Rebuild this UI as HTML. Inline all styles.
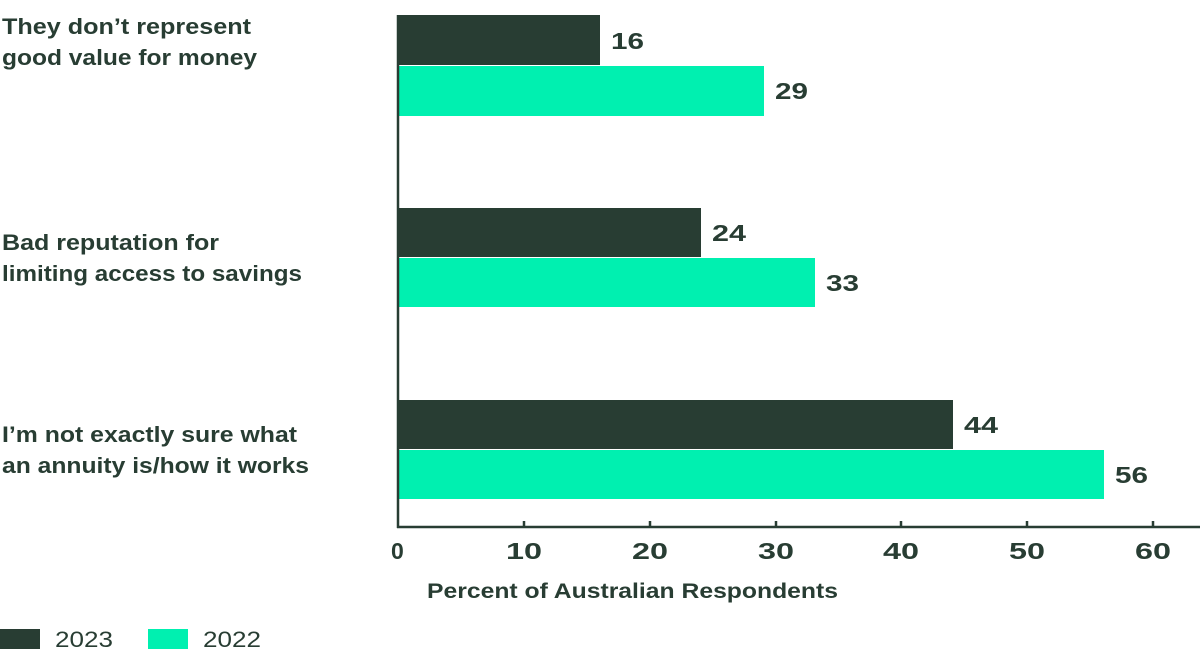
<!DOCTYPE html>
<html><head><meta charset="utf-8"><style>
body{margin:0;background:#fff;}
svg{display:block;font-family:"Liberation Sans",Arial,sans-serif;}
</style></head><body>
<svg width="1200" height="653" viewBox="0 0 1200 653" xmlns="http://www.w3.org/2000/svg">
<g fill="#283d33" font-weight="bold" font-size="22" lengthAdjust="spacingAndGlyphs">
<text x="2" y="34" textLength="249" lengthAdjust="spacingAndGlyphs">They don’t represent</text>
<text x="2" y="65" textLength="255" lengthAdjust="spacingAndGlyphs">good value for money</text>
<text x="2" y="250" textLength="217" lengthAdjust="spacingAndGlyphs">Bad reputation for</text>
<text x="2" y="281" textLength="300" lengthAdjust="spacingAndGlyphs">limiting access to savings</text>
<text x="2" y="442" textLength="295" lengthAdjust="spacingAndGlyphs">I’m not exactly sure what</text>
<text x="2" y="473" textLength="307" lengthAdjust="spacingAndGlyphs">an annuity is/how it works</text>
</g>
<g fill="#283d33"><rect x="398" y="15" width="202" height="50"/><rect x="398" y="208" width="303" height="49"/><rect x="398" y="400" width="555" height="49"/></g>
<g fill="#00f0b0"><rect x="398" y="66" width="366" height="50"/><rect x="398" y="258" width="417" height="49"/><rect x="398" y="450" width="706" height="49"/></g>
<g fill="#283d33" font-weight="bold" font-size="23">
<text x="611" y="49" textLength="33" lengthAdjust="spacingAndGlyphs">16</text><text x="775" y="99" textLength="33" lengthAdjust="spacingAndGlyphs">29</text>
<text x="712" y="241" textLength="34" lengthAdjust="spacingAndGlyphs">24</text><text x="826" y="291" textLength="33" lengthAdjust="spacingAndGlyphs">33</text>
<text x="964" y="433" textLength="34" lengthAdjust="spacingAndGlyphs">44</text><text x="1115" y="483" textLength="33" lengthAdjust="spacingAndGlyphs">56</text>
</g>
<g stroke="#283d33" stroke-width="2.5" fill="none">
<line x1="398" y1="15" x2="398" y2="528"/><line x1="397" y1="527" x2="1200" y2="527"/>
<line x1="524" y1="521" x2="524" y2="527"/><line x1="650" y1="521" x2="650" y2="527"/><line x1="776" y1="521" x2="776" y2="527"/><line x1="901" y1="521" x2="901" y2="527"/><line x1="1027" y1="521" x2="1027" y2="527"/><line x1="1153" y1="521" x2="1153" y2="527"/>
</g>
<g fill="#283d33" font-weight="bold" font-size="23">
<text x="391" y="559">0</text>
<text x="506" y="559" textLength="36" lengthAdjust="spacingAndGlyphs">10</text>
<text x="632" y="559" textLength="36" lengthAdjust="spacingAndGlyphs">20</text>
<text x="758" y="559" textLength="36" lengthAdjust="spacingAndGlyphs">30</text>
<text x="883" y="559" textLength="36" lengthAdjust="spacingAndGlyphs">40</text>
<text x="1009" y="559" textLength="36" lengthAdjust="spacingAndGlyphs">50</text>
<text x="1135" y="559" textLength="36" lengthAdjust="spacingAndGlyphs">60</text>
<text x="427" y="598" font-size="21" textLength="411" lengthAdjust="spacingAndGlyphs">Percent of Australian Respondents</text>
</g>
<rect x="0" y="629" width="40" height="20" fill="#283d33"/>
<text x="55" y="647" font-size="22" fill="#283d33" textLength="58" lengthAdjust="spacingAndGlyphs">2023</text>
<rect x="148" y="629" width="40" height="20" fill="#00f0b0"/>
<text x="203" y="647" font-size="22" fill="#283d33" textLength="58" lengthAdjust="spacingAndGlyphs">2022</text>
</svg>
</body></html>
